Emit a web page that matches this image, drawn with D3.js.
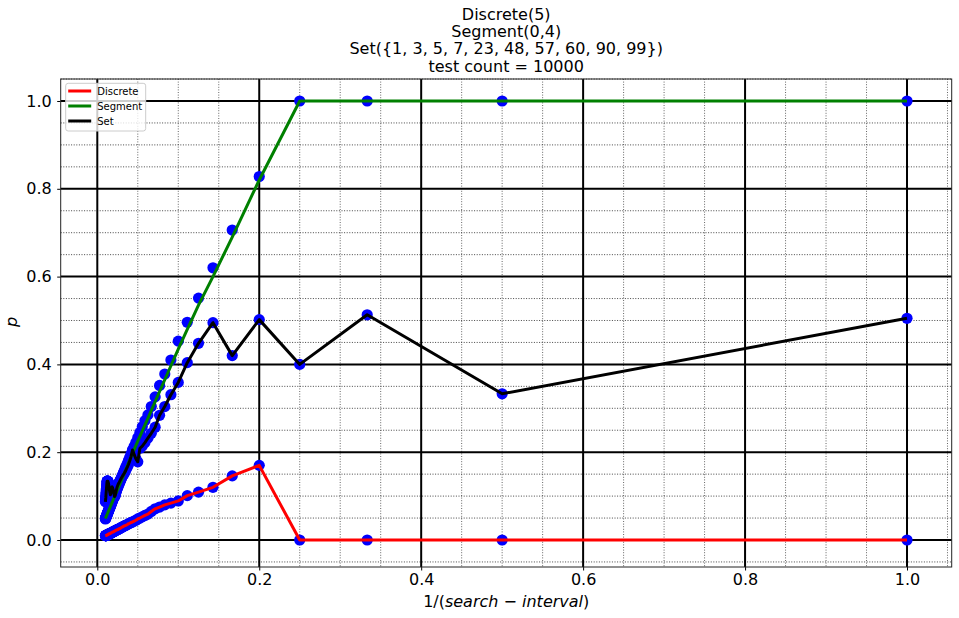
<!DOCTYPE html>
<html>
<head>
<meta charset="utf-8">
<script src="https://cdn.jsdelivr.net/npm/d3@7"></script>
<style>
    body { margin: 0; background: #fff; }
    text { font-family: "DejaVu Sans", sans-serif; }
</style>
</head>
<body>
<svg id="chart" width="959" height="618"></svg>
<script>
// search interval n, plotted at x = 1/n
var intervals = [
    1, 2, 3, 4, 5, 6, 7, 8, 9, 10,
    11, 12, 13, 14, 15, 16, 17, 18, 19, 20,
    21, 22, 23, 24, 25, 26, 27, 28, 29, 30,
    31, 32, 33, 34, 35, 36, 37, 38, 39, 40,
    41, 42, 43, 44, 45, 46, 47, 48, 49, 50,
    51, 52, 53, 54, 55, 56, 57, 58, 59, 60,
    61, 62, 63, 64, 65, 66, 67, 68, 69, 70,
    71, 72, 73, 74, 75, 76, 77, 78, 79, 80,
    81, 82, 83, 84, 85, 86, 87, 88, 89, 90,
    91, 92, 93, 94, 95, 96, 97, 98, 99, 100
];

var discreteP = [
    0, 0, 0, 0, 0.170, 0.146, 0.120, 0.109, 0.101, 0.089,
    0.084, 0.080, 0.075, 0.071, 0.065, 0.059, 0.056, 0.053, 0.050, 0.048,
    0.045, 0.043, 0.041, 0.040, 0.038, 0.037, 0.035, 0.034, 0.033, 0.032,
    0.031, 0.030, 0.029, 0.028, 0.027, 0.026, 0.026, 0.025, 0.024, 0.024,
    0.023, 0.023, 0.022, 0.022, 0.021, 0.021, 0.020, 0.020, 0.019, 0.019,
    0.019, 0.018, 0.018, 0.018, 0.017, 0.017, 0.017, 0.016, 0.016, 0.016,
    0.016, 0.015, 0.015, 0.015, 0.015, 0.014, 0.014, 0.014, 0.014, 0.014,
    0.013, 0.013, 0.013, 0.013, 0.013, 0.012, 0.012, 0.012, 0.012, 0.012,
    0.012, 0.012, 0.011, 0.011, 0.011, 0.011, 0.011, 0.011, 0.011, 0.011,
    0.010, 0.010, 0.010, 0.010, 0.010, 0.010, 0.010, 0.010, 0.010, 0.010
];

var segmentP = [
    1, 1, 1, 1, 0.828, 0.706, 0.620, 0.551, 0.496, 0.453,
    0.410, 0.378, 0.352, 0.326, 0.304, 0.285, 0.272, 0.258, 0.245, 0.233,
    0.222, 0.213, 0.204, 0.196, 0.188, 0.181, 0.174, 0.168, 0.163, 0.157,
    0.153, 0.148, 0.143, 0.139, 0.135, 0.132, 0.128, 0.125, 0.122, 0.119,
    0.116, 0.113, 0.111, 0.108, 0.106, 0.104, 0.101, 0.099, 0.097, 0.095,
    0.094, 0.092, 0.090, 0.089, 0.087, 0.085, 0.084, 0.082, 0.081, 0.080,
    0.078, 0.077, 0.076, 0.075, 0.074, 0.073, 0.072, 0.070, 0.069, 0.069,
    0.068, 0.067, 0.066, 0.065, 0.064, 0.063, 0.062, 0.062, 0.061, 0.060,
    0.059, 0.059, 0.058, 0.057, 0.057, 0.056, 0.055, 0.055, 0.054, 0.054,
    0.053, 0.052, 0.052, 0.051, 0.051, 0.050, 0.050, 0.049, 0.049, 0.048
];

var setP = [
    0.505, 0.333, 0.513, 0.400, 0.502, 0.420, 0.495, 0.448, 0.404, 0.359,
    0.331, 0.304, 0.284, 0.257, 0.243, 0.232, 0.222, 0.214, 0.209, 0.178,
    0.185, 0.195, 0.205, 0.190, 0.180, 0.172, 0.166, 0.161, 0.156, 0.152,
    0.149, 0.146, 0.143, 0.140, 0.137, 0.134, 0.131, 0.129, 0.126, 0.123,
    0.120, 0.116, 0.112, 0.106, 0.102, 0.100, 0.099, 0.103, 0.107, 0.111,
    0.114, 0.117, 0.119, 0.120, 0.121, 0.118, 0.115, 0.112, 0.109, 0.106,
    0.104, 0.103, 0.105, 0.107, 0.109, 0.112, 0.115, 0.118, 0.121, 0.124,
    0.126, 0.128, 0.130, 0.131, 0.132, 0.133, 0.134, 0.134, 0.134, 0.134,
    0.134, 0.134, 0.133, 0.130, 0.127, 0.124, 0.121, 0.118, 0.115, 0.112,
    0.109, 0.106, 0.103, 0.100, 0.097, 0.095, 0.093, 0.091, 0.089, 0.087
];

// the green Segment line does not go through its dots, read separately
var segmentLineIntervals = [1, 4, 5, 6, 7, 8, 9, 10, 12, 14, 16, 20, 25, 33, 50, 100];
var segmentLineP = [1, 1, 0.82, 0.69, 0.60, 0.535, 0.48, 0.435, 0.365, 0.315, 0.277, 0.225, 0.182, 0.138, 0.093, 0.049];

var seriesNames = ["Discrete", "Segment", "Set"];
var seriesColors = ["#ff0000", "#008000", "#000000"];
var titleLines = ["Discrete(5)", "Segment(0,4)", "Set({1, 3, 5, 7, 23, 48, 57, 60, 90, 99})", "test count = 10000"];
var majorTicks = [0, 0.2, 0.4, 0.6, 0.8, 1.0];

CH = {
    frame: { left: 60.7, right: 951.7, top: 79, bottom: 567 },
    svg: d3.select("#chart")
};

CH.x = d3.scaleLinear().domain([-0.0452, 1.0552]).range([CH.frame.left, CH.frame.right]);
CH.y = d3.scaleLinear().domain([-0.0615, 1.0501]).range([CH.frame.bottom, CH.frame.top]);

/***
 * turn interval + value arrays into points
 */
CH.points = function (ns, ps) {
    return ns.map(function (n, i) { return { x: 1 / n, y: ps[i] }; });
}

/***
 * grid lines, minor dotted and major solid black
 */
CH.drawGrid = function () {
    var g = CH.svg.append("g");
    var f = CH.frame;
    var isMajor = function (v) {
        return majorTicks.some(function (m) { return Math.abs(m - v) < 1e-9; });
    };
    var xMinor = CH.x.ticks(20).filter(function (v) { return !isMajor(v); });
    var yMinor = CH.y.ticks(20).filter(function (v) { return !isMajor(v); });

    g.selectAll(".xmin").data(xMinor).enter().append("line")
        .attr("x1", CH.x).attr("x2", CH.x).attr("y1", f.top).attr("y2", f.bottom)
        .attr("stroke", "#555").attr("stroke-width", 0.9).attr("stroke-dasharray", "1,1.6");
    g.selectAll(".ymin").data(yMinor).enter().append("line")
        .attr("y1", CH.y).attr("y2", CH.y).attr("x1", f.left).attr("x2", f.right)
        .attr("stroke", "#333").attr("stroke-width", 0.9).attr("stroke-dasharray", "1,1.6");

    g.selectAll(".xmaj").data(majorTicks).enter().append("line")
        .attr("x1", CH.x).attr("x2", CH.x).attr("y1", f.top).attr("y2", f.bottom)
        .attr("stroke", "#000").attr("stroke-width", 2);
    g.selectAll(".ymaj").data(majorTicks).enter().append("line")
        .attr("y1", CH.y).attr("y2", CH.y).attr("x1", f.left).attr("x2", f.right)
        .attr("stroke", "#000").attr("stroke-width", 2);
}

CH.drawAxes = function () {
    var f = CH.frame;
    var fmt = d3.format(".1f");
    var xMinor = CH.x.ticks(20);
    var yMinor = CH.y.ticks(20);

    var gx = CH.svg.append("g").attr("transform", "translate(0," + f.bottom + ")");
    gx.call(d3.axisBottom(CH.x).tickValues(xMinor).tickSize(2).tickFormat(""));
    gx.call(d3.axisBottom(CH.x).tickValues(majorTicks).tickSize(3.5).tickPadding(3.5).tickFormat(fmt));
    gx.selectAll(".domain").remove();
    gx.selectAll("text").attr("font-size", 16).attr("font-family", "DejaVu Sans").attr("fill", "#000");

    var gy = CH.svg.append("g").attr("transform", "translate(" + f.left + ",0)");
    gy.call(d3.axisLeft(CH.y).tickValues(yMinor).tickSize(2).tickFormat(""));
    gy.call(d3.axisLeft(CH.y).tickValues(majorTicks).tickSize(3.5).tickPadding(5.5).tickFormat(fmt));
    gy.selectAll(".domain").remove();
    gy.selectAll("text").attr("font-size", 16).attr("font-family", "DejaVu Sans").attr("fill", "#000");

    CH.svg.append("rect")
        .attr("x", f.left).attr("y", f.top)
        .attr("width", f.right - f.left).attr("height", f.bottom - f.top)
        .attr("fill", "none").attr("stroke", "#222").attr("stroke-width", 1);
}

CH.drawData = function () {
    var line = d3.line().x(function (d) { return CH.x(d.x); }).y(function (d) { return CH.y(d.y); });
    var dotSets = [CH.points(intervals, discreteP), CH.points(intervals, segmentP), CH.points(intervals, setP)];
    var lineSets = [dotSets[0], CH.points(segmentLineIntervals, segmentLineP), dotSets[2]];

    var dots = CH.svg.append("g");
    dotSets.forEach(function (pts) {
        dots.selectAll(null).data(pts).enter().append("circle")
            .attr("cx", function (d) { return CH.x(d.x); })
            .attr("cy", function (d) { return CH.y(d.y); })
            .attr("r", 5.6).attr("fill", "#0000ff");
    });

    var lines = CH.svg.append("g");
    lineSets.forEach(function (pts, i) {
        lines.append("path").datum(pts)
            .attr("d", line).attr("fill", "none")
            .attr("stroke", seriesColors[i]).attr("stroke-width", 3)
            .attr("stroke-linejoin", "round");
    });
}

CH.drawLegend = function () {
    var g = CH.svg.append("g").attr("transform", "translate(65.7,83.3)");
    g.append("rect").attr("width", 80).attr("height", 47.7).attr("rx", 2.5)
        .attr("fill", "#fff").attr("fill-opacity", 0.8).attr("stroke", "#ccc").attr("stroke-width", 1);
    seriesNames.forEach(function (name, i) {
        var yy = 7.7 + i * 15;
        g.append("line").attr("x1", 2.5).attr("x2", 25.5).attr("y1", yy).attr("y2", yy)
            .attr("stroke", seriesColors[i]).attr("stroke-width", 3);
        g.append("text").attr("x", 31.5).attr("y", yy + 3.6)
            .attr("font-size", 10).attr("fill", "#000").text(name);
    });
}

CH.drawTexts = function () {
    var cx = (CH.frame.left + CH.frame.right) / 2;
    titleLines.forEach(function (t, i) {
        CH.svg.append("text").attr("x", cx).attr("y", 20 + i * 17.2)
            .attr("text-anchor", "middle").attr("font-size", 16).attr("fill", "#000").text(t);
    });

    var xl = CH.svg.append("text").attr("x", cx).attr("y", 606.5)
        .attr("text-anchor", "middle").attr("font-size", 16).attr("fill", "#000");
    xl.append("tspan").text("1/(");
    xl.append("tspan").attr("font-style", "italic").text("search");
    xl.append("tspan").text(" \u2212 ");
    xl.append("tspan").attr("font-style", "italic").text("interval");
    xl.append("tspan").text(")");

    CH.svg.append("text").attr("transform", "translate(16.7,322) rotate(-90)")
        .attr("text-anchor", "middle").attr("font-size", 16).attr("font-style", "italic")
        .attr("fill", "#000").text("p");
}

CH.drawGrid();
CH.drawData();
CH.drawAxes();
CH.drawLegend();
CH.drawTexts();
</script>
</body>
</html>
